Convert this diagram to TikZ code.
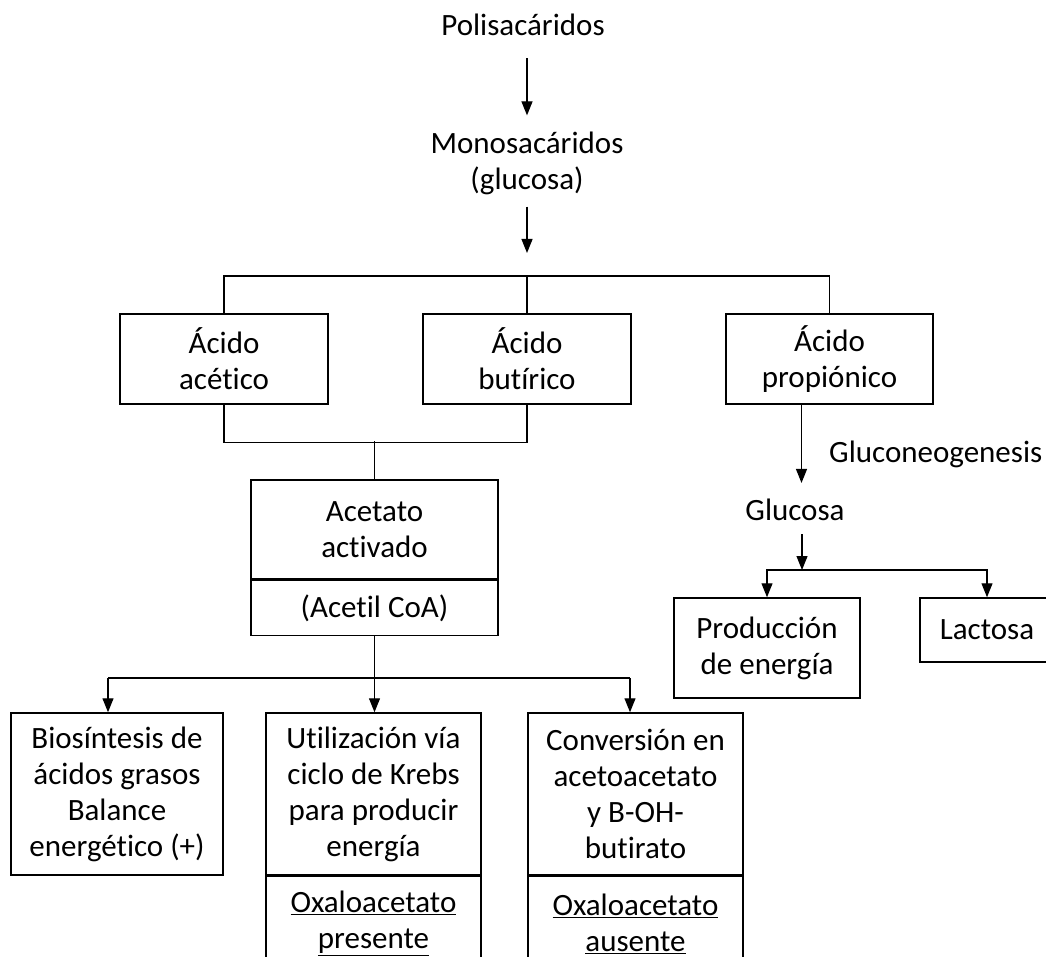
\documentclass[tikz,border=0pt]{standalone}
\usepackage{fontspec}
\setmainfont[Ligatures=NoCommon]{Carlito}
\usetikzlibrary{arrows.meta,positioning}

\tikzset{
  caja/.style={draw, line width=1.5pt, align=center, inner sep=0pt},
  texto/.style={align=center, inner sep=0pt},
  linea/.style={line width=1.2pt},
  flecha/.style={line width=1.2pt, -{Triangle[length=14pt,width=11pt]}},
}

\begin{document}
\begin{tikzpicture}[x=1pt, y=-1pt, font=\fontsize{31}{36}\selectfont]

  % Page
  \useasboundingbox (0,0) rectangle (1046,957);
  \clip (0,0) rectangle (1046,957);

  % Top chain
  \node[texto] (poli) at (523,25)  {Polisacáridos};
  \node[texto] (mono) at (527,163) {Monosacáridos\\(glucosa)};
  \draw[flecha, shorten <=22pt, shorten >=16pt] (mono |- poli.south) -- (mono.north);

  % Acids
  \node[caja, minimum width=208pt, minimum height=90pt] (acetico)    at (224,359)   {Ácido\\acético};
  \node[caja, minimum width=208pt, minimum height=90pt] (butirico)   at (527,359)   {Ácido\\butírico};
  \node[caja, minimum width=207pt, minimum height=90pt] (propionico) at (829.5,359) {Ácido\\propiónico};

  \coordinate (bus1) at (527,276);
  \draw[flecha, shorten <=12pt, shorten >=23pt] (mono) -- (bus1);
  \draw[linea] (acetico.north) |- (bus1) -| (propionico.north);
  \draw[linea] (bus1) -- (butirico.north);

  % Activated acetate
  \node[caja, minimum width=247pt, minimum height=99pt] (acetato) at (374.5,529.5) {Acetato\\activado};
  \node[caja, minimum width=247pt, minimum height=55pt, below=0pt of acetato] (acetil) {(Acetil CoA)};

  \draw[linea] (acetico.south) -- ++(0,38) -| (butirico.south);
  \draw[linea] (acetato.north) -- ++(0,-38);

  % Propionic branch
  \node[texto] (gluc) at (795,510) {Glucosa};
  \node[texto, anchor=west] (gng) at (829,454) {Gluconeogenesis};
  \draw[flecha, shorten >=16pt] ([xshift=-28pt]propionico.south) -- ([xshift=-28pt]propionico.south |- gluc.north);

  \node[caja, minimum width=186pt, minimum height=100pt] (prod) at (767,648) {Producción\\de energía};
  \node[caja, minimum width=134pt, minimum height=64pt]  (lact) at (987,630) {Lactosa};

  \coordinate (bus3) at (802,570);
  \draw[flecha, shorten <=13pt] (gluc.south -| bus3) -- (bus3);
  \draw[flecha] (bus3) -| (prod.north);
  \draw[flecha] (bus3) -| (lact.north);

  % Fates of acetyl CoA
  \node[caja, minimum width=212pt, minimum height=162pt] (bio)  at (117,794)   {Biosíntesis de\\ácidos grasos\\Balance\\energético (+)};
  \node[caja, minimum width=215pt, minimum height=162pt] (util) at (373.5,794) {Utilización vía\\ciclo de Krebs\\para producir\\energía};
  \node[caja, minimum width=215pt, minimum height=162pt] (conv) at (635.5,794) {Conversión en\\acetoacetato\\y B-OH-\\butirato};
  \node[caja, minimum width=215pt, minimum height=94pt, below=0pt of util] (oxa1) {\underline{Oxaloacetato}\\\underline{presente}};
  \node[caja, minimum width=215pt, minimum height=94pt, below=0pt of conv] (oxa2) {\underline{Oxaloacetato}\\\underline{ausente}};

  \coordinate (busL) at (108,678);
  \coordinate (busR) at (630,678);
  \draw[linea] (busL) -- (busR);
  \draw[flecha] (acetil.south) -- (acetil.south |- util.north);
  \draw[flecha] (busL) -- (busL |- bio.north);
  \draw[flecha] (busR) -- (busR |- conv.north);

\end{tikzpicture}
\end{document}
